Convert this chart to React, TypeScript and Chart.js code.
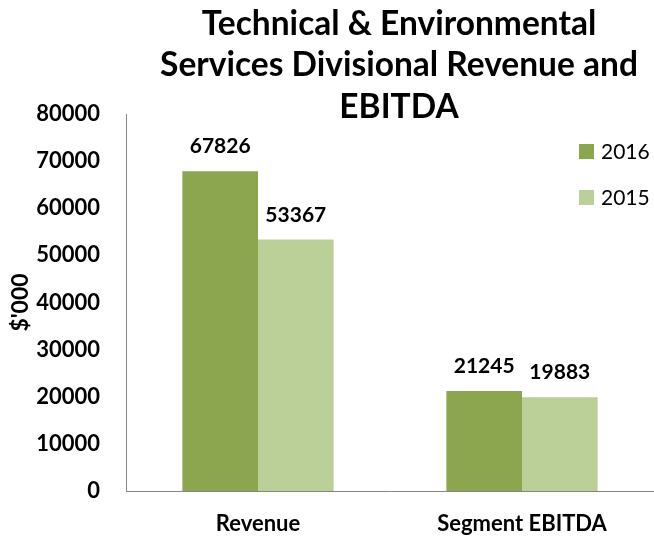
import React, { useEffect, useRef } from "react";
import { Chart, registerables } from "chart.js";

Chart.register(...registerables);

const titleLines = ["Technical & Environmental", "Services Divisional Revenue and", "EBITDA"];
const categories = ["Revenue", "Segment EBITDA"];
const seriesNames = ["2016", "2015"];
const values2016 = [67826, 21245];
const values2015 = [53367, 19883];
const colors = ["#8ba64f", "#bbcf98"];
const yTitle = "$'000";
const FONT = "Lato, 'Open Sans', sans-serif";

const overlayPlugin = {
  id: "overlay",
  afterDatasetsDraw(chart: any) {
    const ctx = chart.ctx;
    ctx.save();
    // data labels
    ctx.fillStyle = "#000";
    ctx.font = `bold 21px ${FONT}`;
    ctx.textAlign = "center";
    ctx.textBaseline = "alphabetic";
    chart.data.datasets.forEach((ds: any, i: number) => {
      const meta = chart.getDatasetMeta(i);
      meta.data.forEach((el: any, j: number) => {
        ctx.fillText(String(ds.data[j]), el.x, el.y - 18);
      });
    });
    // title
    ctx.font = `bold 33.5px ${FONT}`;
    const baselines = [35, 76, 118];
    titleLines.forEach((t, i) => ctx.fillText(t, 399, baselines[i]));
    // legend
    ctx.font = `21px ${FONT}`;
    ctx.textAlign = "left";
    ctx.textBaseline = "middle";
    const ly = [151.5, 197.5];
    seriesNames.forEach((n, i) => {
      ctx.fillStyle = colors[i];
      ctx.fillRect(579, ly[i] - 7.5, 15, 15);
      ctx.fillStyle = "#000";
      ctx.fillText(n, 601, ly[i] + 1);
    });
    ctx.restore();
  },
};

export default function App() {
  const ref = useRef<HTMLCanvasElement>(null);
  useEffect(() => {
    const chart = new Chart(ref.current as HTMLCanvasElement, {
      type: "bar",
      data: {
        labels: categories,
        datasets: [
          { label: seriesNames[0], data: values2016, backgroundColor: colors[0], barPercentage: 1, categoryPercentage: 0.573 },
          { label: seriesNames[1], data: values2015, backgroundColor: colors[1], barPercentage: 1, categoryPercentage: 0.573 },
        ],
      },
      options: {
        animation: false,
        responsive: false,
        layout: { padding: { top: 114, right: 0, left: 0, bottom: 0 } },
        plugins: { legend: { display: false }, title: { display: false }, tooltip: { enabled: false } },
        scales: {
          x: {
            grid: { display: false, drawTicks: false },
            border: { display: true, color: "#868686", width: 1 },
            ticks: { color: "#000", font: { family: FONT, size: 22, weight: "bold" }, padding: 20 },
            afterFit: (s: any) => { s.height = 49; },
          },
          y: {
            min: 0,
            max: 80000,
            grid: { display: false, drawTicks: false },
            border: { display: true, color: "#868686", width: 1 },
            ticks: {
              stepSize: 10000,
              color: "#000",
              font: { family: FONT, size: 22, weight: "bold" },
              padding: 26,
              callback: (v: any) => String(v),
            },
            title: { display: true, text: yTitle, color: "#000", font: { family: FONT, size: 23, weight: "bold" }, padding: { top: 7, bottom: 0 } },
            afterFit: (s: any) => { s.width = 126; },
          },
        },
      },
      plugins: [overlayPlugin],
    });
    return () => chart.destroy();
  }, []);
  return (
    <div style={{ position: "fixed", left: 0, top: 0, width: 654, height: 540, background: "#fff" }}>
      <canvas ref={ref} width={654} height={540} style={{ width: 654, height: 540 }} />
    </div>
  );
}
